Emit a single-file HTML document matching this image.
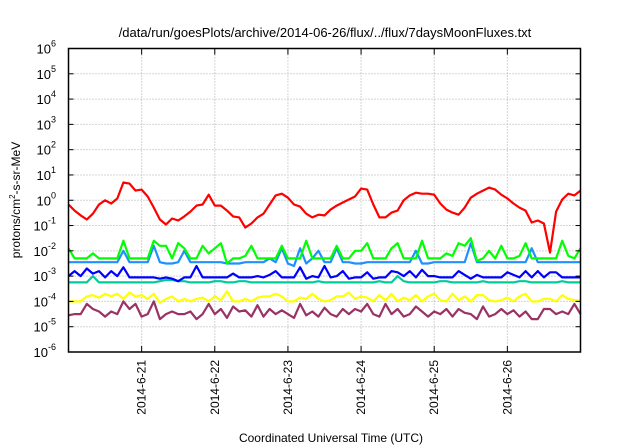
<!DOCTYPE html>
<html><head><meta charset="utf-8"><style>
html,body{margin:0;padding:0;background:#fff;}
svg{display:block;font-family:"Liberation Sans",sans-serif;}
</style></head><body>
<svg id="chart" width="640" height="448" viewBox="0 0 640 448" xmlns="http://www.w3.org/2000/svg">
<text x="325" y="37" font-size="13" text-anchor="middle">/data/run/goesPlots/archive/2014-06-26/flux/../flux/7daysMoonFluxes.txt</text>
<text transform="translate(20,200) rotate(-90)" font-size="12" text-anchor="middle">protons/cm<tspan font-size="8" dy="-5">2</tspan><tspan dy="5">-s-sr-MeV</tspan></text>
<text x="331" y="442" font-size="12" text-anchor="middle">Coordinated Universal Time (UTC)</text>
<g id="grid"></g><g id="series"></g>
<rect x="68.5" y="48.5" width="512" height="303.5" fill="none" stroke="#000" stroke-width="1.5"/>
<g id="axes"></g>
</svg>
<script>
const dayLabels=["2014-6-21","2014-6-22","2014-6-23","2014-6-24","2014-6-25","2014-6-26"];
const yTickExps=[-6,-5,-4,-3,-2,-1,0,1,2,3,4,5,6];
const red=[-0.17,-0.41,-0.6,-0.76,-0.53,-0.17,0,-0.13,0.07,0.7,0.66,0.38,0.42,0.15,-0.29,-0.76,-0.96,-0.72,-0.8,-0.64,-0.45,-0.21,-0.17,0.22,-0.21,-0.21,-0.41,-0.64,-0.68,-1.08,-0.92,-0.68,-0.53,-0.17,0.19,0.26,0.1,-0.17,-0.25,-0.53,-0.68,-0.57,-0.6,-0.37,-0.21,-0.09,0.03,0.15,0.46,0.42,-0.17,-0.68,-0.68,-0.49,-0.41,0,0.19,0.3,0.26,0.26,0.22,-0.13,-0.37,-0.49,-0.57,-0.29,0.1,0.26,0.38,0.5,0.42,0.22,0.07,-0.13,-0.29,-0.41,-0.88,-0.8,-0.92,-2.07,-0.45,0.03,0.26,0.19,0.38];
const green=[-1.9,-2.3,-2.3,-2.3,-2.1,-2.3,-2.3,-2.3,-2.3,-1.6,-2.3,-2.3,-2.3,-2.3,-1.6,-1.8,-1.8,-2.3,-1.7,-1.9,-2.3,-2.3,-1.8,-2.1,-1.9,-1.7,-2.5,-2.3,-2.3,-2.2,-1.8,-2.3,-2.3,-2.3,-2.3,-1.8,-2.3,-2.3,-2.3,-1.6,-2.3,-2.3,-2.3,-2.3,-1.8,-2.3,-2.3,-2.0,-2.0,-1.7,-2.3,-2.3,-2.3,-1.9,-1.7,-2.3,-2.3,-2.3,-1.6,-2.3,-2.3,-2.3,-2.1,-2.2,-1.7,-1.8,-1.5,-2.4,-2.3,-2.0,-2.3,-1.8,-2.3,-2.3,-2.2,-1.7,-2.3,-2.3,-2.3,-2.3,-2.3,-1.6,-2.2,-2.3,-1.9];
const lightBlue=[-2.45,-2.45,-2.45,-2.45,-2.45,-2.45,-2.45,-2.45,-2.45,-2.0,-2.45,-2.45,-2.45,-2.45,-1.8,-2.45,-2.5,-2.5,-2.45,-2.0,-2.45,-2.45,-2.45,-2.45,-2.45,-2.45,-2.5,-2.5,-2.5,-2.45,-2.45,-2.45,-2.45,-2.3,-2.45,-1.9,-2.5,-2.6,-1.9,-2.5,-2.3,-2.0,-2.45,-2.45,-1.9,-2.45,-2.45,-2.5,-2.5,-2.45,-2.45,-2.45,-2.45,-2.45,-2.45,-2.45,-2.45,-2.0,-2.5,-2.5,-2.45,-2.45,-2.45,-2.45,-2.45,-2.45,-1.7,-2.45,-2.45,-2.45,-2.45,-2.45,-2.45,-2.45,-2.45,-2.45,-1.9,-2.45,-2.45,-2.45,-2.45,-2.45,-2.45,-2.45,-2.45];
const blue=[-3.0,-2.8,-3.0,-2.7,-2.9,-2.8,-3.05,-2.8,-3.0,-2.65,-3.05,-3.05,-3.05,-3.05,-3.05,-3.1,-3.05,-3.1,-3.2,-3.05,-3.05,-2.6,-3.05,-3.05,-3.05,-3.05,-3.05,-2.9,-3.05,-3.05,-3.05,-3.0,-3.05,-2.95,-2.8,-3.05,-3.05,-3.05,-2.65,-3.1,-3.0,-3.05,-2.6,-3.05,-3.0,-2.8,-3.1,-3.05,-3.05,-2.85,-3.1,-3.05,-3.05,-2.8,-2.85,-3.0,-2.8,-3.05,-2.75,-3.0,-3.0,-3.05,-3.05,-3.05,-2.8,-2.95,-3.1,-2.95,-3.05,-3.05,-3.05,-3.05,-2.85,-2.95,-3.05,-2.8,-3.05,-2.8,-3.05,-2.85,-2.85,-3.05,-3.05,-3.05,-3.05];
const teal=[-3.25,-3.25,-3.25,-3.25,-3.0,-3.25,-3.25,-3.25,-3.25,-3.25,-3.25,-3.25,-3.25,-3.25,-3.25,-3.2,-3.15,-3.15,-3.2,-3.2,-3.25,-3.25,-3.25,-3.25,-3.2,-3.2,-3.25,-3.25,-3.2,-3.2,-3.25,-3.25,-3.25,-3.25,-3.25,-3.25,-3.25,-3.25,-3.25,-3.25,-3.25,-3.2,-3.25,-3.25,-3.25,-3.25,-3.25,-3.25,-3.25,-3.25,-3.25,-3.2,-3.25,-3.25,-3.0,-3.2,-3.25,-3.25,-3.25,-3.25,-3.25,-3.2,-3.2,-3.25,-3.25,-3.25,-3.25,-3.25,-3.2,-3.25,-3.25,-3.25,-3.25,-3.25,-3.2,-3.2,-3.25,-3.25,-3.25,-3.25,-3.25,-3.2,-3.25,-3.25,-3.25];
const yellow=[-4.0,-4.0,-4.0,-3.8,-3.75,-3.85,-3.7,-3.8,-3.7,-3.9,-3.65,-3.8,-3.75,-3.9,-3.7,-4.05,-3.9,-3.8,-4.0,-3.9,-4.0,-3.9,-3.85,-4.0,-3.8,-3.95,-3.6,-4.0,-4.0,-3.9,-4.0,-3.85,-3.8,-3.8,-3.7,-3.8,-4.0,-4.0,-3.85,-3.9,-3.7,-3.9,-4.0,-3.95,-3.8,-3.8,-3.65,-3.9,-3.8,-3.85,-4.0,-3.75,-3.95,-3.7,-4.0,-3.85,-3.95,-3.75,-4.0,-3.8,-3.7,-3.95,-4.0,-3.7,-3.95,-3.8,-4.0,-3.75,-3.75,-3.95,-4.0,-3.95,-3.85,-4.0,-3.8,-3.7,-4.0,-4.0,-3.9,-3.9,-4.0,-3.75,-3.9,-3.95,-3.95];
const purple=[-4.55,-4.5,-4.5,-4.1,-4.3,-4.4,-4.6,-4.4,-4.5,-4.0,-4.3,-4.1,-4.6,-4.5,-4.0,-4.7,-4.5,-4.4,-4.5,-4.5,-4.4,-4.7,-4.5,-4.1,-4.5,-4.3,-4.65,-4.2,-4.4,-4.35,-4.6,-4.15,-4.6,-4.3,-4.5,-4.35,-4.5,-4.65,-4.1,-4.55,-4.4,-4.6,-4.25,-4.5,-4.6,-4.3,-4.5,-4.3,-4.4,-4.1,-4.5,-4.6,-4.1,-4.5,-4.3,-4.6,-4.5,-4.2,-4.4,-4.6,-4.4,-4.5,-4.3,-4.6,-4.3,-4.45,-4.5,-4.7,-4.2,-4.6,-4.5,-4.3,-4.5,-4.35,-4.6,-4.4,-4.7,-4.7,-4.3,-4.3,-4.5,-4.4,-4.5,-4.1,-4.5];
const seriesList=[["purple",purple,"#993366"],["yellow",yellow,"#ffff00"],["teal",teal,"#00cc99"],["blue",blue,"#0000ff"],["light-blue",lightBlue,"#1e90ff"],["green",green,"#00ff00"],["red",red,"#ff0000"]];
const X0=68.5,X1=580.5,Y0=352,Y1=48.5,NS="http://www.w3.org/2000/svg";
const DAYS=7,STEP_H=2;
function xDay(d){return X0+(X1-X0)*d/DAYS;}
function xIdx(i){return xDay(i*STEP_H/24);}
function yLog(e){return Y0-(Y0-Y1)*(e+6)/12;}
function mk(tag,attrs,parent){const el=document.createElementNS(NS,tag);for(const k in attrs)el.setAttribute(k,attrs[k]);parent.appendChild(el);return el;}
const grid=document.getElementById('grid'),axes=document.getElementById('axes'),ser=document.getElementById('series');
yTickExps.forEach(e=>{
 const y=yLog(e);
 if(e>-6&&e<6){const g=mk('line',{x1:X0,x2:X1,y1:y,y2:y,stroke:'#aaa','stroke-dasharray':'1,2','stroke-width':1},grid);
 
 }
 const t1=mk('line',{x1:X0,x2:X0+5,y1:y,y2:y,stroke:'#000'},axes);
 
 
 const t2=mk('line',{x1:X1,x2:X1-5,y1:y,y2:y,stroke:'#000'},axes);
 
 
 const tx=mk('text',{x:56,y:y+5,'font-size':13,'text-anchor':'end'},axes);
 
 
 tx.innerHTML='10<tspan font-size="9" dy="-7">'+e+'</tspan>';
});
dayLabels.forEach((lab,k)=>{
 const x=xDay(k+1);
 const g=mk('line',{x1:x,x2:x,y1:Y1,y2:Y0,stroke:'#aaa','stroke-dasharray':'1,2','stroke-width':1},grid);
 
 
 const t1=mk('line',{x1:x,x2:x,y1:Y0,y2:Y0-6,stroke:'#000'},axes);
 
 
 const t2=mk('line',{x1:x,x2:x,y1:Y1,y2:Y1+6,stroke:'#000'},axes);
 
 
 const tx=mk('text',{transform:'translate('+(x+4)+',360) rotate(-90)','font-size':12,'text-anchor':'end'},axes);
 
 
 tx.textContent=lab;
});
seriesList.forEach(([name,vals,col])=>{
 const pts=vals.map((v,i)=>xIdx(i).toFixed(1)+','+yLog(v).toFixed(1)).join(' ');
 const p=mk('polyline',{points:pts,fill:'none',stroke:col,'stroke-width':2.2,'stroke-linejoin':'round'},ser);
 
 
});
</script>
</body></html>
